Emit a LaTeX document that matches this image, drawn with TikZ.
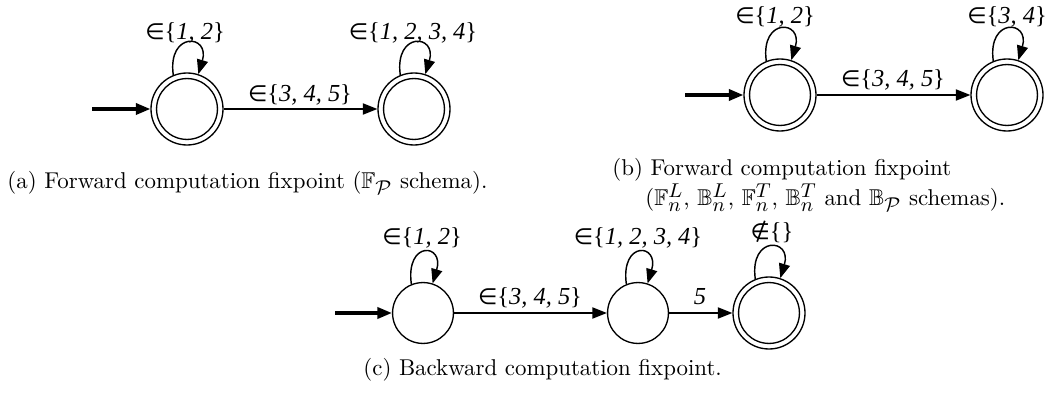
\documentclass[tikz,border=0pt]{standalone}
\usepackage{amssymb}
\usepackage{fontspec}
\newfontfamily\tms{Liberation Serif}
\newfontfamily\symf{DejaVu Sans}
\DeclareMathSizes{10.3}{10.3}{9.2}{7}
\usetikzlibrary{arrows.meta}
\tikzset{
  state/.style={circle,draw,line width=0.6pt,minimum size=27.4pt,inner sep=0pt},
  accstate/.style={circle,draw,line width=0.6pt,minimum size=32.4pt,inner sep=0pt},
  edge/.style={line width=0.65pt,-{Triangle[length=6.5pt,width=5pt]}},
  startedge/.style={line width=1.4pt,-{Triangle[length=6.5pt,width=5pt]}},
  loopedge/.style={edge},
  lbl/.style={font=\tms\fontsize{11}{13}\selectfont,inner sep=0pt},
  captext/.style={font=\fontsize{10.3}{12.5}\selectfont,inner sep=0pt,anchor=west},
}
\newcommand{\innerring}[1]{\draw[line width=0.6pt] (#1.center) circle[radius=13.7pt];}
\newcommand{\sloop}[1]{\draw[loopedge] (#1.112) .. controls +(-6,-44) and +(12,-40) .. (#1.72);}
\newcommand{\inset}[1]{{\symf\fontsize{10}{12}\selectfont ∈}\{\itshape #1\upshape\}}
\begin{document}
\begin{tikzpicture}[x=0.45pt,y=-0.45pt]
\useasboundingbox (0,0) rectangle (1052,397);
% (a)
\coordinate (a0) at (92,109);
\node[accstate] (a1) at (187,109) {};
\node[accstate] (a2) at (414,109) {};
\innerring{a1}\innerring{a2}
\draw[startedge] (a0) -- (a1);
\draw[edge] (a1) -- (a2);
\sloop{a1}\sloop{a2}
\node[lbl] (la1) at (185,33) {\inset{1, 2}};
\node[lbl] (la2) at (413,33) {\inset{1, 2, 3, 4}};
\node[lbl] (la12) at (300,95) {\inset{3, 4, 5}};
\node[captext] (capa) at (7,183) {(a) Forward computation fixpoint ($\mathbb{F}_{\mathcal{P}}$ schema).};
% (b)
\coordinate (b0) at (685,95);
\node[accstate] (b1) at (780,95) {};
\node[accstate] (b2) at (1007,95) {};
\innerring{b1}\innerring{b2}
\draw[startedge] (b0) -- (b1);
\draw[edge] (b1) -- (b2);
\sloop{b1}\sloop{b2}
\node[lbl] (lb1) at (775,17) {\inset{1, 2}};
\node[lbl] (lb2) at (1007,17) {\inset{3, 4}};
\node[lbl] (lb12) at (893,80) {\inset{3, 4, 5}};
\node[captext] (capb1) at (612,170) {(b) Forward computation fixpoint};
\node[captext] (capb2) at (645,198) {($\mathbb{F}^L_n$, $\mathbb{B}^L_n$, $\mathbb{F}^T_n$, $\mathbb{B}^T_n$ and $\mathbb{B}_{\mathcal{P}}$ schemas).};
% (c)
\coordinate (c0) at (335,313);
\node[state] (c1) at (423,313) {};
\node[state] (c2) at (638,313) {};
\node[accstate] (c3) at (769,313) {};
\innerring{c3}
\draw[startedge] (c0) -- (c1);
\draw[edge] (c1) -- (c2);
\draw[edge] (c2) -- (c3);
\sloop{c1}\sloop{c2}\sloop{c3}
\node[lbl] (lc1) at (422,238) {\inset{1, 2}};
\node[lbl] (lc2) at (638,238) {\inset{1, 2, 3, 4}};
\node[lbl] (lc3) at (772,232) {{\symf\fontsize{10}{12}\selectfont ∉}\{\}};
\node[lbl] (lc12) at (530,298) {\inset{3, 4, 5}};
\node[lbl] (lc23) at (700,297) {\itshape 5};
\node[captext] (capc) at (363,370) {(c) Backward computation fixpoint.};
\end{tikzpicture}
\end{document}
